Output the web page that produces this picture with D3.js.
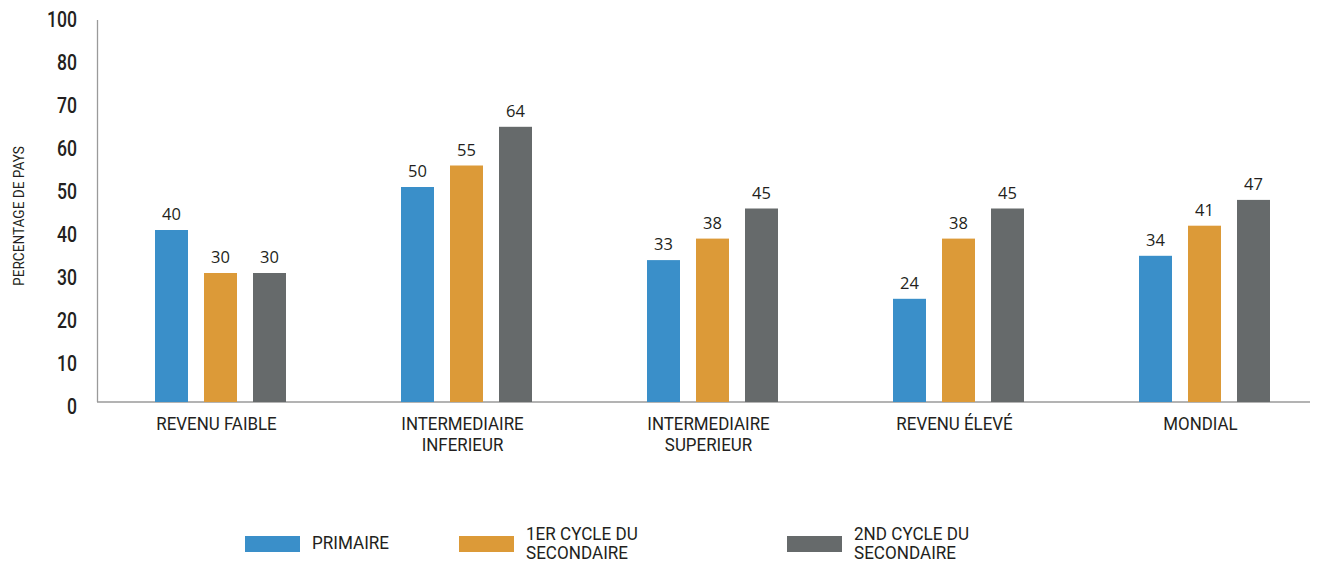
<!DOCTYPE html>
<html>
<head>
<meta charset="utf-8">
<script src="https://cdn.jsdelivr.net/npm/d3@7"></script>
<style>
  body { margin: 0; background: #fff; }
  svg text { fill: #231f20; }
</style>
</head>
<body>
<div id="vis"></div>
<script>
// categories, series and tick labels
var categories = [["REVENU FAIBLE"], ["INTERMEDIAIRE", "INFERIEUR"], ["INTERMEDIAIRE", "SUPERIEUR"], ["REVENU ÉLEVÉ"], ["MONDIAL"]];
var seriesNames = [["PRIMAIRE"], ["1ER CYCLE DU", "SECONDAIRE"], ["2ND CYCLE DU", "SECONDAIRE"]];
var primaire = [40, 50, 33, 24, 34];
var premierCycle = [30, 55, 38, 38, 41];
var secondCycle = [30, 64, 45, 45, 47];
var tickValues = [0, 10, 20, 30, 40, 50, 60, 70, 80, 90];
var tickLabels = ["0", "10", "20", "30", "40", "50", "60", "70", "80", "100"];

var colors = ["#3a8fc9", "#dc9a38", "#666a6b"];
var series = [primaire, premierCycle, secondCycle];
var narrow = "Roboto, 'DejaVu Sans Condensed', sans-serif";

var W = 1317, H = 562;
var svg = d3.select("#vis").append("svg").attr("width", W).attr("height", H);

var x0 = d3.scaleBand().domain(d3.range(categories.length)).range([97.5, 1327.5]);
var x1 = d3.scaleBand().domain(d3.range(series.length)).range([0, 131]).paddingInner(16/49).paddingOuter(0);
var y = d3.scaleLinear().domain([0, 90]).range([402, 15]);

var barOffset = (x0.bandwidth() - 131) / 2;

// axes lines
svg.append("line").attr("x1", 97.5).attr("x2", 97.5).attr("y1", 20).attr("y2", y(0))
  .attr("stroke", "#9a9a9a").attr("stroke-width", 1.3);
svg.append("line").attr("x1", 97).attr("x2", 1310).attr("y1", y(0)).attr("y2", y(0))
  .attr("stroke", "#9a9a9a").attr("stroke-width", 1.3);

// y tick labels (condensed look)
svg.selectAll(".ytick").data(tickValues).enter().append("text")
  .attr("class", "ytick")
  .attr("transform", function(d) { return "translate(77," + (y(d) + 4) + ") scale(0.8,1)"; })
  .attr("dy", "0.36em")
  .attr("text-anchor", "end")
  .style("font-family", narrow)
  .style("font-weight", 500)
  .style("font-size", "22px")
  .text(function(d, i) { return tickLabels[i]; });

// y title
svg.append("text")
  .attr("transform", "translate(24,216) rotate(-90) scale(0.88,1)")
  .attr("text-anchor", "middle")
  .style("font-family", narrow)
  .style("font-size", "15.5px")
  .text("PERCENTAGE DE PAYS");

// bars
var groups = svg.selectAll(".grp").data(categories).enter().append("g")
  .attr("class", "grp")
  .attr("transform", function(d, i) { return "translate(" + (x0(i) + barOffset) + ",0)"; });

groups.each(function(c, ci) {
  var g = d3.select(this);
  series.forEach(function(s, si) {
    g.append("rect")
      .attr("x", x1(si))
      .attr("width", x1.bandwidth())
      .attr("y", y(s[ci]))
      .attr("height", y(0) - y(s[ci]))
      .attr("fill", colors[si]);
    g.append("text")
      .attr("x", x1(si) + x1.bandwidth() / 2)
      .attr("y", y(s[ci]) - 10)
      .attr("text-anchor", "middle")
      .style("font-family", "'Open Sans', sans-serif")
      .style("font-size", "16.5px")
      .text(s[ci]);
  });
});

// category labels
svg.selectAll(".cat").data(categories).enter().append("g")
  .attr("class", "cat")
  .attr("transform", function(d, i) { return "translate(" + (x0(i) + x0.bandwidth() / 2 - 4) + ",430) scale(0.94,1)"; })
  .append("text")
  .attr("text-anchor", "middle")
  .style("font-family", narrow)
  .style("font-size", "18px")
  .selectAll("tspan").data(function(d) { return d; }).enter().append("tspan")
    .attr("x", 0)
    .attr("dy", function(d, i) { return i ? 21 : 0; })
    .text(function(d) { return d; });

// legend
var legendX = [245, 459, 787];
var legend = svg.selectAll(".leg").data(seriesNames).enter().append("g")
  .attr("class", "leg")
  .attr("transform", function(d, i) { return "translate(" + legendX[i] + ",536)"; });
legend.append("rect").attr("width", 55).attr("height", 16)
  .attr("fill", function(d, i) { return colors[i]; });
legend.append("g")
  .attr("transform", "translate(67,0) scale(0.95,1)")
  .append("text")
  .attr("y", function(d) { return d.length > 1 ? 4 : 13; })
  .attr("dy", "0.35em")
  .style("font-family", narrow)
  .style("font-size", "18px")
  .selectAll("tspan").data(function(d) { return d; }).enter().append("tspan")
    .attr("x", 0)
    .attr("dy", function(d, i) { return i ? 19 : 0; })
    .text(function(d) { return d; });
</script>
</body>
</html>
